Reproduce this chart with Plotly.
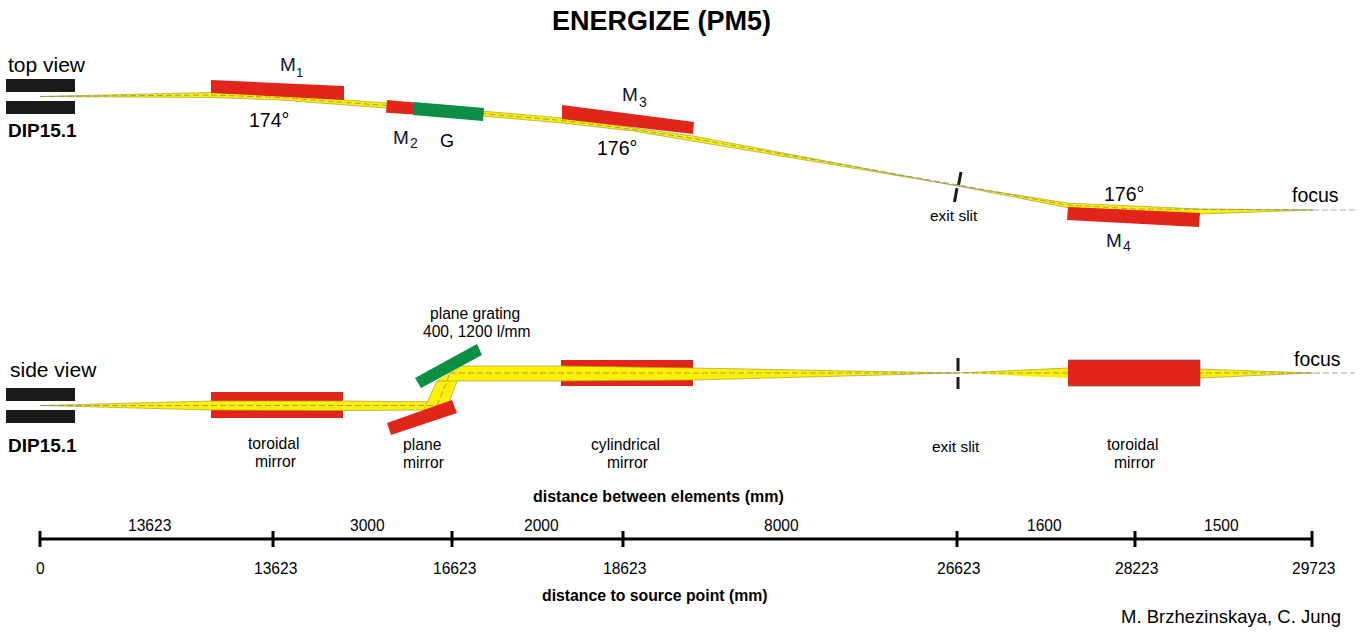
import plotly.graph_objects as go

# everything is a schematic, so the axes just run in picture units
WIDTH = 1361
HEIGHT = 643

RED = '#e1251b'
GREEN = '#0a8f45'
YELLOW = '#fff000'
BLACK = '#1d1a1b'
EDGE = '#a0a03a'
NAVY = '#111133'

# scale bar
element_x = [40, 273, 452, 623, 957, 1135, 1312]
source_label_x = [40, 275, 454, 624, 958, 1136, 1313]
source_distance = ['0', '13623', '16623', '18623', '26623', '28223', '29723']
between_x = [149, 367, 541, 781, 1044, 1221]
between_distance = ['13623', '3000', '2000', '8000', '1600', '1500']

# apertures, same for both views
aperture_x = [6, 75, 75, 6]
top_aperture_y = [[79, 79, 92, 92], [101, 101, 114, 114]]
side_aperture_y = [[388, 388, 401, 401], [410, 410, 423, 423]]

# top view elements
m1_top_x = [211, 344, 344, 211]
m1_top_y = [80, 86, 100, 93]
m2_top_x = [387, 414, 414, 386]
m2_top_y = [100, 102.5, 114.5, 112.7]
g_top_x = [414, 484, 483, 413]
g_top_y = [102, 108, 121, 115]
m3_top_x = [562, 694, 693, 562]
m3_top_y = [105, 122, 134, 119]
m4_top_x = [1068, 1200, 1199, 1067]
m4_top_y = [207, 213, 227, 220]

# top view beam, upper edge then lower edge
beam_top_x = [40, 212, 280, 413, 562, 633, 693, 950, 1067, 1200, 1313,
              1313, 1200, 1067, 950, 693, 633, 562, 413, 280, 212, 40]
beam_top_y = [96.5, 92.5, 95, 105, 118, 128, 136, 184.5, 203, 209, 210,
              210, 214, 207.5, 184.5, 141, 131, 123, 110, 100, 97.5, 96.5]
axis_top_x = [40, 212, 280, 413, 562, 633, 693, 958, 1067, 1135, 1313]
axis_top_y = [96.5, 95, 97.5, 107.5, 120.5, 129.5, 138.5, 185, 205, 209, 210]
focus_top_x = [1313, 1355]
focus_top_y = [210, 210]
slit_top_x = [[961, 958.5], [957, 954.5]]
slit_top_y = [[172, 185], [188, 202]]

# side view elements
m1_side_x = [211, 343, 343, 211]
m1_side_y = [392, 392, 418, 418]
m3_side_x = [561, 693, 693, 561]
m3_side_y = [360, 360, 386, 386]
m4_side_x = [1068, 1200, 1200, 1068]
m4_side_y = [360, 360, 386, 386]
plane_mirror_x = [387, 452, 457, 391]
plane_mirror_y = [423, 400, 413, 435]
grating_x = [415, 477, 482, 421]
grating_y = [378, 344, 355, 388]

# side view beam pieces
beam_in_x = [40, 211, 343, 449, 424, 343, 211, 40]
beam_in_y = [405.5, 401, 401, 402, 410, 410.5, 410, 405.5]
beam_up_x = [424, 437, 463, 449]
beam_up_y = [409, 381, 366, 402]
beam_out_x = [463, 561, 693, 958, 693, 561, 437]
beam_out_y = [366, 366, 368, 373, 380, 381, 381]
beam_m4_x = [958, 1068, 1200, 1313, 1200, 1068]
beam_m4_y = [373, 368, 369, 373, 378, 378]
axis_in_x = [40, 437]
axis_in_y = [405.5, 405.5]
axis_up_x = [437, 450]
axis_up_y = [405.5, 373]
axis_out_x = [450, 1355]
axis_out_y = [373, 373]
slit_side_x = [[958, 958], [958, 958]]
slit_side_y = [[358, 371], [377, 389]]

# x, y, text, size, bold, colour
labels = [
    (661, 21, 'ENERGIZE (PM5)', 27, True, 'black'),
    (47, 64, 'top view', 21, False, 'black'),
    (42.5, 130, 'DIP15.1', 19, True, 'black'),
    (288, 64, 'M', 19, False, NAVY),
    (299, 72.5, '1', 13, False, NAVY),
    (269, 120, '174°', 19.5, False, 'black'),
    (401, 137, 'M', 19, False, NAVY),
    (414, 143, '2', 14, False, NAVY),
    (447, 141, 'G', 18, False, 'black'),
    (630, 94, 'M', 19, False, NAVY),
    (643, 102, '3', 14, False, NAVY),
    (617, 148, '176°', 19.5, False, 'black'),
    (953.5, 215.5, 'exit slit', 15.5, False, 'black'),
    (1124, 194, '176°', 19.5, False, 'black'),
    (1114, 240, 'M', 19, False, NAVY),
    (1127, 246, '4', 14, False, NAVY),
    (1315, 194.5, 'focus', 19.5, False, 'black'),
    (475, 313.5, 'plane grating', 15.6, False, 'black'),
    (476, 331.5, '400, 1200 l/mm', 15.6, False, 'black'),
    (53, 369.5, 'side view', 21, False, 'black'),
    (42.5, 445, 'DIP15.1', 19, True, 'black'),
    (273, 443.5, 'toroidal', 15.7, False, 'black'),
    (275.5, 461.5, 'mirror', 15.7, False, 'black'),
    (422, 444, 'plane', 15.7, False, 'black'),
    (423, 462, 'mirror', 15.7, False, 'black'),
    (625, 444, 'cylindrical', 15.7, False, 'black'),
    (627, 462, 'mirror', 15.7, False, 'black'),
    (955.5, 446.5, 'exit slit', 15.5, False, 'black'),
    (1132, 444, 'toroidal', 15.7, False, 'black'),
    (1134, 462, 'mirror', 15.7, False, 'black'),
    (1317, 358.5, 'focus', 19.5, False, 'black'),
    (658, 496.5, 'distance between elements (mm)', 16, True, 'black'),
    (655, 595, 'distance to source point (mm)', 15.8, True, 'black'),
    (1231, 616, 'M. Brzhezinskaya, C. Jung', 18.5, False, 'black'),
]


def add_poly(fig, x, y, color, line_color=None):
    fig.add_trace(go.Scatter(x=x, y=y, mode='lines', fill='toself', fillcolor=color,
                             line=dict(color=line_color or color, width=0.7 if line_color else 0),
                             hoverinfo='skip'))


def add_line(fig, x, y, color, width, dash='solid'):
    fig.add_trace(go.Scatter(x=x, y=y, mode='lines', hoverinfo='skip',
                             line=dict(color=color, width=width, dash=dash)))


fig = go.Figure()

# apertures
for ys in top_aperture_y + side_aperture_y:
    add_poly(fig, aperture_x, ys, BLACK)

# top view
add_poly(fig, beam_top_x, beam_top_y, YELLOW, EDGE)
add_line(fig, axis_top_x, axis_top_y, '#8a8a6a', 0.8, '6px,3px')
add_line(fig, focus_top_x, focus_top_y, '#999999', 0.8, '6px,3px')
add_poly(fig, m1_top_x, m1_top_y, RED)
add_poly(fig, m3_top_x, m3_top_y, RED)
add_poly(fig, m4_top_x, m4_top_y, RED)
add_poly(fig, m2_top_x, m2_top_y, RED)
add_poly(fig, g_top_x, g_top_y, GREEN)
for sx, sy in zip(slit_top_x, slit_top_y):
    add_line(fig, sx, sy, BLACK, 3)

# side view, mirrors sit behind the beam here
add_poly(fig, m1_side_x, m1_side_y, RED)
add_poly(fig, m3_side_x, m3_side_y, RED)
add_poly(fig, beam_in_x, beam_in_y, YELLOW, EDGE)
add_poly(fig, beam_up_x, beam_up_y, YELLOW, EDGE)
add_poly(fig, beam_out_x, beam_out_y, YELLOW, EDGE)
add_poly(fig, beam_m4_x, beam_m4_y, YELLOW, EDGE)
add_line(fig, axis_in_x, axis_in_y, '#8a8a6a', 0.8, '6px,3px')
add_line(fig, axis_up_x, axis_up_y, '#8a8a6a', 0.8, '6px,3px')
add_line(fig, axis_out_x, axis_out_y, '#8a8a6a', 0.8, '6px,3px')
add_poly(fig, m4_side_x, m4_side_y, RED, '#7a5a4a')
add_poly(fig, plane_mirror_x, plane_mirror_y, RED)
add_poly(fig, grating_x, grating_y, GREEN)
for sx, sy in zip(slit_side_x, slit_side_y):
    add_line(fig, sx, sy, BLACK, 3)

# scale bar
add_line(fig, [element_x[0], element_x[-1]], [539, 539], 'black', 3)
for ex in element_x:
    add_line(fig, [ex, ex], [531, 547], 'black', 3)

for lx, ly, txt, size, bold, color in labels:
    fig.add_annotation(x=lx, y=ly, text=f'<b>{txt}</b>' if bold else txt, showarrow=False,
                       font=dict(size=size, color=color))
for ex, txt in zip(source_label_x, source_distance):
    fig.add_annotation(x=ex, y=568, text=txt, showarrow=False, font=dict(size=15.6, color='black'))
for bx, txt in zip(between_x, between_distance):
    fig.add_annotation(x=bx, y=525.5, text=txt, showarrow=False, font=dict(size=15.6, color='black'))

fig.update_layout(width=WIDTH, height=HEIGHT, margin=dict(l=0, r=0, t=0, b=0),
                  showlegend=False, plot_bgcolor='white', paper_bgcolor='white',
                  font=dict(family='Liberation Sans'))
fig.update_xaxes(range=[0, WIDTH], visible=False)
fig.update_yaxes(range=[HEIGHT, 0], visible=False)

fig.write_html("out.html", config=dict(displayModeBar=False),
               post_script="document.body.style.margin='0';")
